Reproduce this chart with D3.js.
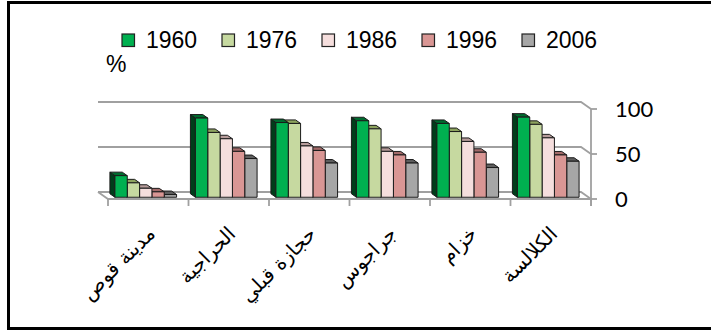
<!DOCTYPE html>
<html>
<head>
<meta charset="utf-8">
<script src="https://cdn.jsdelivr.net/npm/d3@7"></script>
<style>
  html, body { margin: 0; padding: 0; background: #fff; }
  svg { display: block; }
</style>
</head>
<body>
<svg id="chart" width="711" height="333"></svg>
<script>
// Villages (left to right) and the share (%) for each census year
const categories = ["مدينة قوص", "الحراجية", "حجازة قبلي", "جراجوس", "خزام", "الكلالسة"];
const years = ["1960", "1976", "1986", "1996", "2006"];
const v1960 = [24, 88, 83, 85, 82, 89];
const v1976 = [16, 72, 82, 76, 73, 81];
const v1986 = [10, 65, 57, 51, 62, 66];
const v1996 = [6, 51, 52, 47, 50, 47];
const v2006 = [3, 43, 38, 38, 33, 40];
const yTicks = [0, 50, 100];

const series = [v1960, v1976, v1986, v1996, v2006];

// face colours per series: front, top, side
const palette = [
  { front: "#00B050", top: "#006B2F", side: "#003D1A" },
  { front: "#C6D9A0", top: "#8DA35E", side: "#6E8246" },
  { front: "#F5DEDD", top: "#B79C9B", side: "#9A8180" },
  { front: "#D99694", top: "#A26A69", side: "#804F4E" },
  { front: "#A6A6A6", top: "#5E5E5E", side: "#444444" }
];

const svg = d3.select("#chart");

// 3-D projection: the depth axis recedes up and to the left
const depthDX = -10, depthDY = -7;
const x = d3.scaleBand().domain(categories).range([108, 591]).paddingInner(0).paddingOuter(0);
const y = d3.scaleLinear().domain([0, 100]).range([199, 109]);
const inner = d3.scaleBand().domain(years).range([0, x.bandwidth() * 0.766]);

function P(px, t, v) {
  return [px + depthDX * t, y(v) + depthDY * t];
}
const poly = pts => "M" + pts.map(p => p.join(",")).join("L") + "Z";

const x0 = x.range()[0], x1 = x.range()[1];

// back wall gridlines and floor
const grid = svg.append("g").attr("fill", "none").attr("stroke", "#A0A0A0").attr("stroke-width", 1.8);
yTicks.forEach(v => {
  const a = P(x0, 1, v), b = P(x1, 1, v), c = P(x1, 0, v);
  grid.append("path").attr("d", "M" + [a, b, c].map(p => p.join(",")).join("L"));
});
// floor front edge and left edge
grid.append("path").attr("d", "M" + [P(x0, 1, 0), P(x0, 0, 0), P(x1, 0, 0)].map(p => p.join(",")).join("L"));

// value axis on the right front edge
const axisG = svg.append("g").attr("stroke", "#A0A0A0").attr("stroke-width", 1.8);
axisG.append("line").attr("x1", x1).attr("x2", x1).attr("y1", y(100)).attr("y2", y(0) + 7);
yTicks.forEach(v => {
  axisG.append("line").attr("x1", x1).attr("x2", x1 + 6).attr("y1", y(v)).attr("y2", y(v));
});
svg.append("g").selectAll("text").data(yTicks).join("text")
  .attr("x", 615).attr("y", d => y(d) + 2.5)
  .attr("dominant-baseline", "middle")
  .attr("font-family", "Lato, 'Liberation Sans', sans-serif")
  .attr("font-size", 22).attr("fill", "#000")
  .text(d => d);

// category ticks below the floor
svg.append("g").attr("stroke", "#A0A0A0").attr("stroke-width", 1.8)
  .selectAll("line").data(d3.range(categories.length + 1)).join("line")
  .attr("x1", i => x0 + i * x.bandwidth()).attr("x2", i => x0 + i * x.bandwidth())
  .attr("y1", y(0)).attr("y2", y(0) + 7);

// bars, painted right to left so nearer faces cover hidden sides
const bars = svg.append("g").attr("stroke", "#1a1a1a").attr("stroke-width", 1).attr("stroke-linejoin", "round");
const t0 = 0.25, t1 = 0.75;
const off = (x.bandwidth() - inner.range()[1]) / 2;
for (let c = categories.length - 1; c >= 0; c--) {
  for (let s = years.length - 1; s >= 0; s--) {
    const v = series[s][c];
    const L = x(categories[c]) + off + inner(years[s]);
    const R = L + inner.bandwidth();
    const g = bars.append("g");
    // left side
    g.append("path").attr("fill", palette[s].side)
      .attr("d", poly([P(L, t0, 0), P(L, t1, 0), P(L, t1, v), P(L, t0, v)]));
    // top
    g.append("path").attr("fill", palette[s].top)
      .attr("d", poly([P(L, t0, v), P(L, t1, v), P(R, t1, v), P(R, t0, v)]));
    // front
    g.append("path").attr("fill", palette[s].front)
      .attr("d", poly([P(L, t0, 0), P(L, t0, v), P(R, t0, v), P(R, t0, 0)]));
  }
}

// category labels, rotated
svg.append("g").selectAll("text").data(categories).join("text")
  .attr("transform", d => `translate(${x(d) + x.bandwidth() / 2 + 8},${y(0) + 36}) rotate(-45)`)
  .attr("text-anchor", "end")
  .attr("font-family", "'DejaVu Sans', sans-serif")
  .attr("font-size", 20).attr("fill", "#000")
  .text(d => d);

// legend
const lg = svg.append("g");
years.forEach((yr, i) => {
  const gx = 122 + i * 100;
  lg.append("rect").attr("x", gx).attr("y", 34).attr("width", 12.5).attr("height", 12.5)
    .attr("fill", palette[i].front).attr("stroke", "#222").attr("stroke-width", 1.2);
  lg.append("text").attr("x", gx + 24).attr("y", 48.3)
    .attr("font-family", "'Liberation Sans', Arial, sans-serif")
    .attr("font-size", 23).attr("fill", "#000").text(yr);
});

// unit label
svg.append("text").attr("x", 106).attr("y", 71.5)
  .attr("font-family", "'Liberation Sans', Arial, sans-serif")
  .attr("font-size", 23).attr("fill", "#000").text("%");

// outer frame
svg.append("rect").attr("x", 8.5).attr("y", 2.5).attr("width", 720).attr("height", 326)
  .attr("fill", "none").attr("stroke", "#000").attr("stroke-width", 3);
</script>
</body>
</html>
